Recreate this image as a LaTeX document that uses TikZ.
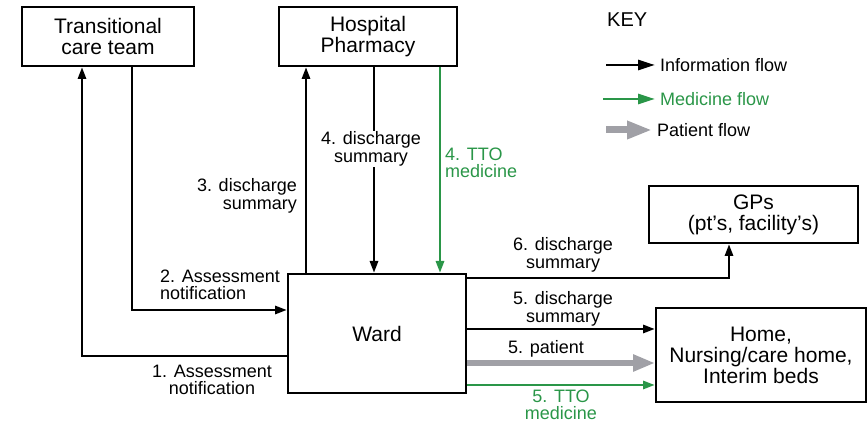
\documentclass[tikz,border=0pt]{standalone}
\usepackage{fontspec}
\setmainfont{Liberation Sans}
\usetikzlibrary{arrows.meta}
\definecolor{medgreen}{RGB}{42,150,72}
\definecolor{patgrey}{RGB}{160,160,166}
\begin{document}
\begin{tikzpicture}[x=1pt,y=-1pt,
  box/.style={draw,line width=2pt,inner sep=0pt,align=center,font=\fontsize{21}{21}\selectfont},
  lbl/.style={inner sep=1pt,font=\fontsize{18}{17.5}\selectfont},
  keytext/.style={anchor=west,inner xsep=5pt,inner ysep=1pt,font=\fontsize{18}{17.5}\selectfont},
  info/.style={line width=2.8pt,-{Triangle[length=12pt,width=8pt]}},
  med/.style={medgreen,line width=2.8pt,-{Triangle[length=12pt,width=8pt]}},
  pat/.style={patgrey,line width=6.5pt,-{Triangle[length=22pt,width=16pt]}},
]
\useasboundingbox (0,0) rectangle (868,427);

% boxes
\node[box,minimum width=172pt,minimum height=59pt] (tct) at (108,36.5) {Transitional\\care team};
\node[box,minimum width=178pt,minimum height=59pt] (pharm) at (368,36.5) {Hospital\\Pharmacy};
\node[box,minimum width=178pt,minimum height=119pt] (ward) at (377,333.5) {Ward};
\node[box,minimum width=209pt,minimum height=57pt] (gps) at (753.5,214.5) {GPs\\(pt’s, facility’s)};
\node[box,minimum width=210pt,minimum height=94pt] (home) at (761,355) {Home,\\Nursing/care home,\\Interim beds};

% ward <-> transitional care team
\draw[info] ([yshift=-22.5pt]ward.west) -| ([xshift=-26pt]tct.south);
\draw[info] ([xshift=24pt]tct.south) |- ([yshift=23.5pt]ward.west);
\node[lbl,align=center] (l1) at (212,380) {1. Assessment\\notification};
\node[lbl,align=left,anchor=west] (l2) at (159,285) {2. Assessment\\notification};

% ward <-> pharmacy
\draw[info] ([xshift=-71pt]ward.north) -- ([xshift=-62pt]pharm.south);
\node[lbl,align=right,anchor=east] (l3) at (298,196) {3. discharge\\summary};
\draw[info] ([xshift=6pt]pharm.south) -- ([xshift=-3pt]ward.north);
\node[lbl,align=center,fill=white] (l4) at (371,149) {4. discharge\\summary};
\draw[med] ([xshift=72pt]pharm.south) -- ([xshift=63pt]ward.north);
\node[lbl,align=left,anchor=west,text=medgreen] (l4g) at (444,163) {4. TTO\\medicine};

% ward -> GPs and destination
\draw[info] ([yshift=55.5pt]ward.east) -| ([xshift=-24.5pt]gps.south);
\node[lbl,align=center] (l6) at (563,255) {6. discharge\\summary};
\draw[info] ([yshift=4.5pt]ward.east) -- ([yshift=26pt]home.west);
\node[lbl,align=center] (l5) at (563,309) {5. discharge\\summary};
\draw[pat] ([yshift=-29.5pt]ward.east) -- ([yshift=-8pt]home.west);
\node[lbl] (lp) at (546,349) {5. patient};
\draw[med] ([yshift=-51.5pt]ward.east) -- ([yshift=-30pt]home.west);
\node[lbl,align=center,text=medgreen] (l5g) at (561,405) {5. TTO\\medicine};

% key
\node[anchor=west,inner sep=0pt,font=\fontsize{20}{20}\selectfont] (key) at (607,20) {KEY};
\coordinate (k1) at (606,65);
\coordinate (k2) at (603,99);
\coordinate (k3) at (606,130);
\node[keytext] (kt1) at (655,65) {Information flow};
\node[keytext,text=medgreen] (kt2) at (655,99) {Medicine flow};
\node[keytext] (kt3) at (652,130) {Patient flow};
\draw[line width=2.8pt,-{Triangle[length=17pt,width=10pt]}] (k1) -- (kt1.west);
\draw[medgreen,line width=2.8pt,-{Triangle[length=17pt,width=10pt]}] (k2) -- (kt2.west);
\draw[patgrey,line width=7pt,-{Triangle[length=25pt,width=17pt]}] (k3) -- (kt3.west);
\end{tikzpicture}
\end{document}
